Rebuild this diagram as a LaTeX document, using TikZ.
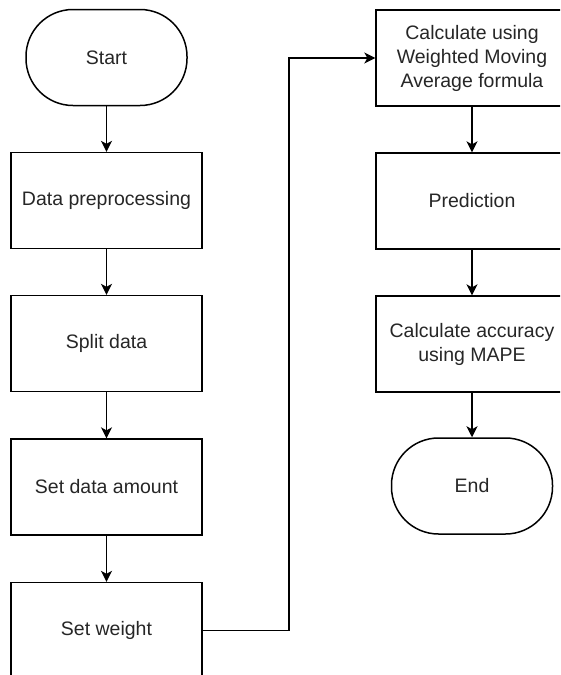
\documentclass[tikz,border=0pt]{standalone}
\usepackage{fontspec}
\setmainfont{Liberation Sans}
\usetikzlibrary{arrows.meta}
\begin{document}
\begin{tikzpicture}[x=1pt,y=-1pt,
  every node/.style={font=\fontsize{19.5}{24}\selectfont, text=black!85, align=center},
  procbox/.style={draw=black, line width=1.3pt, minimum width=191pt, minimum height=96pt, inner sep=0pt},
  termbox/.style={draw=black, line width=1.5pt, rounded corners=47pt, minimum width=161pt, minimum height=96pt, inner sep=0pt},
  flow/.style={draw=black, line width=1.4pt, -{Stealth[length=11pt,width=11pt,inset=3pt]}}
]
\useasboundingbox (0,0) rectangle (560,675);
\clip (0,0) rectangle (560,675);
\node[termbox] (start) at (106.5,57.5) {Start};
\node[procbox] (prep) at (106.5,200.5) {Data preprocessing};
\node[procbox] (split) at (106.5,343.5) {Split data};
\node[procbox] (amount) at (106.5,487) {Set data amount};
\node[procbox] (weight) at (106.5,630.5) {Set weight};
\node[procbox, minimum width=192pt] (calc) at (472,58) {Calculate using\\Weighted Moving\\Average formula};
\node[procbox, minimum width=192pt] (pred) at (472,201) {Prediction};
\node[procbox, minimum width=192pt] (acc) at (472,344) {Calculate accuracy\\using MAPE};
\node[termbox] (end) at (472,486) {End};
\coordinate (bend) at (289,630.5);
\draw[flow] (start) -- (prep);
\draw[flow] (prep) -- (split);
\draw[flow] (split) -- (amount);
\draw[flow] (amount) -- (weight);
\draw[flow] (weight.east) -- (bend) |- (calc.west);
\draw[flow] (calc) -- (pred);
\draw[flow] (pred) -- (acc);
\draw[flow] (acc) -- (end);
\end{tikzpicture}
\end{document}
